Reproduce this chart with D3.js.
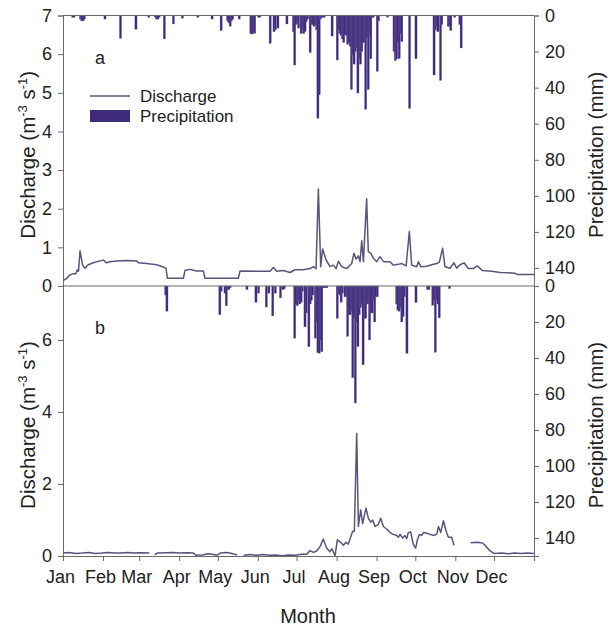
<!DOCTYPE html>
<html><head><meta charset="utf-8">
<script src="https://cdn.jsdelivr.net/npm/d3@7/dist/d3.min.js"></script>
<style>
body{margin:0;background:#fff}
svg{display:block;font-family:Arial,"Liberation Sans",sans-serif}
</style>
</head><body>
<svg id="chart" width="608" height="627"></svg>
<script>
// ---------- DATA ----------
const monthLabels = ["Jan","Feb","Mar","Apr","May","Jun","Jul","Aug","Sep","Oct","Nov","Dec"];
const monthStartDays = [0,31,59,90,120,151,181,212,243,273,304,334];
const yearEnd = 365;

const dischargeTicksA = [0,1,2,3,4,5,6,7];
const dischargeTicksB = [0,2,4,6];
const precipTicks = [0,20,40,60,80,100,120,140];

// panel a daily precipitation [day of year, mm]
const precipA = [[7,1],[8,1],[13,2],[14,3],[15,3],[16,2],[32,2],[44,12.7],[56,7.7],[66,1],[71,1],[72,2],[73,2],[74,1],
[78,13],[85,4.7],[92,1.5],[104,1],[115,2],[122,8.4],[127,3],[128,4],[129,6],[130,3],[131,2],[136,2],
[145,10],[146,10.3],[147,9],[148,10],[151,1],[152,1],[160,15.5],[163,9],[164,8],[166,7],[173,4.7],
[178,9],[179,27.5],[180,5],[181,4],[182,7],[184,10],[185,8],[186,10],[187,9],[188,3.4],[189,2],
[191,20.6],[192,5],[193,5],[194,6],[195,5],[196,8],[197,57],[198,44],[199,2],[200,1],[201,1],[202,1],
[208,11.4],[212,24.7],[213,8],[214,10],[215,11],[216,13],[217,15],[218,10.8],[219,11],[220,16],[221,15],[222,17],
[223,41],[224,22],[225,27],[226,20],[227,18],[228,43],[229,24],[230,27],[231,20],[232,15],[233,15],[234,52],
[235,12],[236,41],[237,10],[238,24],[239,1],[240,1],[243,31],[244,3],[251,1],
[256,20],[257,25],[258,24],[259,15],[260,24],[261,10],[262,14.5],[268,51.6],[273,24],
[287,33],[288,8],[289,6],[290,9],[292,36],[293,5],[298,6],[299,6],[300,8.4],[303,1],[307,5],[308,18]];

// panel b daily precipitation [day of year, mm]
const precipB = [[79,5],[80,14],[121,16],[122,3],[125,4],[126,11],[127,2],[128,2],[129,1],[142,2],[149,9],[151,4],
[157,11.7],[159,4],[162,16.6],[164,4],[168,6.6],[170,2],[171,1.5],
[179,29],[180,10],[181,11],[182,8],[183,10],[184,9],[185,3],[187,22.7],[188,15],[190,33.7],[191,10],[192,8],[193,5],
[195,29],[196,20],[197,37],[198,37.4],[199,30],[200,36.5],[201,1],[202,1],[203,1],[204,1],
[212,18],[213,4],[214,5],[215,9],[216,4],[218,6],[219,6],[220,28],[221,16],[222,16],[223,14],[224,51],[225,18],
[226,65],[227,20],[228,33.7],[229,16],[230,12],[231,10],[232,43.8],[233,18],[234,18],[235,10],[236,10],
[237,30],[238,15],[239,15],[240,8],[241,20],[242,6],[243,6],
[258,10],[259,13.4],[260,14],[261,12],[262,20],[263,17],[264,6],[266,37.4],[273,9.2],[282,2],[283,2],
[286,10.7],[287,8],[288,36.8],[289,8],[290,10],[291,17.7],[299,1.5]];

// panel a discharge [day of year, m3/s]
const dischargeA = [[0,0.14],[3,0.2],[5,0.28],[8,0.32],[10,0.32],[11,0.42],[12,0.38],[13.2,0.91],[15.2,0.54],[17,0.46],
[19.6,0.55],[23.5,0.6],[28.7,0.65],[31.3,0.67],[33.8,0.6],[36.4,0.63],[41.6,0.65],[49.3,0.66],[57,0.65],[58.4,0.6],
[64.8,0.58],[72.6,0.55],[77.8,0.49],[79.8,0.46],[80.9,0.2],[93.3,0.2],[94.6,0.41],[98.4,0.43],[103.6,0.39],
[108.8,0.39],[110,0.2],[135.9,0.2],[137.2,0.39],[150,0.38],[160.4,0.38],[163,0.48],[165.6,0.38],[170.8,0.4],
[175.9,0.35],[179.8,0.42],[186.3,0.42],[191.4,0.45],[194,0.5],[196.1,0.45],[197.9,2.51],[199.7,0.5],[201.2,0.96],
[203.8,0.68],[206.9,0.5],[209.5,0.54],[211.6,0.45],[213.4,0.64],[216,0.5],[219.8,0.45],[223.7,0.58],[225.5,0.85],
[227.1,0.7],[228.9,0.78],[230.2,0.63],[231.5,1.17],[232.8,0.63],[235.3,2.26],[236.6,0.89],[238.4,0.85],
[240.5,0.72],[243.1,0.63],[245.7,0.76],[248.3,0.63],[253.4,0.63],[256,0.54],[259.9,0.56],[262.5,0.58],
[265.9,0.52],[268.4,1.41],[270.2,0.54],[274.1,0.5],[275.4,0.63],[277.2,0.5],[281.8,0.51],[285.7,0.55],
[289.6,0.58],[291.7,0.62],[294.2,0.98],[296,0.5],[299.9,0.46],[303,0.6],[305,0.46],[307.7,0.55],[310.8,0.6],
[314.1,0.45],[318,0.45],[321,0.52],[325,0.4],[332,0.38],[339,0.35],[345,0.34],[350,0.33],[352,0.3],[365,0.3]];

// panel b discharge [day of year, m3/s] (null = missing record)
const dischargeB = [[0,0.08],[5,0.1],[10,0.07],[15,0.08],[20,0.1],[25,0.07],[30,0.08],[35,0.1],[40,0.08],[45,0.08],
[50,0.1],[55,0.08],[60,0.09],[67,0.08],[68,null],[71,0.03],[73,0.08],[80,0.09],[85,0.1],[90,0.08],[96,0.09],
[101,0.08],[103,0.02],[108,0.03],[112,0.06],[116,0.05],[119,0.02],[122,0.08],[127,0.1],[131,0.07],[135,0.03],
[136,null],[140,0.02],[145,0.04],[150,0.02],[155,0.04],[160,0.02],[165,0.03],[170,0.01],[175,0.03],[180,0.02],
[185,0.05],[189,0.05],[191.4,0.15],[194,0.1],[196.5,0.14],[199.2,0.26],[201.7,0.47],[204.3,0.22],[206.9,0.12],
[208.5,0.2],[210.8,0.0],[212.6,0.45],[215.2,0.38],[217.3,0.3],[219.3,0.38],[221.1,0.33],[222.9,0.52],
[224.5,0.69],[225.8,0.69],[227.6,3.4],[228.9,0.82],[230.7,1.28],[232.2,0.9],[234.8,1.33],[236.6,1.05],
[238.4,0.94],[240,1.0],[241.8,0.82],[244.4,0.88],[246.2,1.05],[248.3,0.82],[250.8,0.75],[253.4,0.65],
[256,0.6],[258.6,0.57],[259.9,0.52],[261.2,0.6],[263.2,0.5],[265,0.57],[266.3,0.48],[267.6,0.65],
[269.4,0.67],[271.5,0.32],[273.3,0.22],[274.6,0.45],[276.2,0.6],[278,0.57],[279.3,0.65],[281.9,0.63],
[284.5,0.6],[287.1,0.57],[289.6,0.6],[291,0.82],[292.7,0.65],[294.8,0.98],[296.8,0.7],[298.6,0.52],
[301.2,0.52],[303,0.3],[304,null],[316,0.37],[321,0.38],[325,0.36],[327,0.3],[331,0.14],[334,0.07],
[340,0.08],[345,0.06],[350,0.08],[355,0.07],[360,0.08],[365,0.07]];

// ---------- LAYOUT ----------
const svg = d3.select("#chart");
const L = 63, R = 534, topA = 15.5, mid = 286, botB = 556;
const barColor = "#3d2a7a", lineColor = "#56557c", axisColor = "#6b6b6b", textColor = "#222";

const x = d3.scaleLinear().domain([0, yearEnd]).range([L, R]);
const yA = d3.scaleLinear().domain([0, 7]).range([mid, topA]);
const pA = d3.scaleLinear().domain([0, 150]).range([topA, mid]);
const yB = d3.scaleLinear().domain([0, 7.5]).range([botB, mid]);
const pB = d3.scaleLinear().domain([0, 150]).range([mid, botB]);

function drawPanel(precip, discharge, yQ, yP, qTicks, label, top, bottom) {
  const g = svg.append("g");
  g.selectAll("rect.bar").data(precip).join("rect")
    .attr("x", d => x(d[0]) - 0.4)
    .attr("y", yP(0))
    .attr("width", 2.2)
    .attr("height", d => yP(d[1]) - yP(0))
    .attr("fill", barColor)
    .attr("stroke", "#7a6aa8").attr("stroke-width", 0.3);
  const line = d3.line().defined(d => d[1] !== null).x(d => x(d[0])).y(d => yQ(d[1]));
  g.append("path").datum(discharge).attr("d", line)
    .attr("fill", "none").attr("stroke", lineColor).attr("stroke-width", 1.5)
    .attr("stroke-linejoin", "round");
  g.append("line").attr("x1", L).attr("x2", R).attr("y1", top).attr("y2", top)
    .attr("stroke", axisColor).attr("stroke-width", 1);
  const la = g.append("g").attr("transform", `translate(${L},0)`)
    .call(d3.axisLeft(yQ).tickValues(qTicks).tickSize(5).tickPadding(6).tickFormat(d3.format("d")));
  const ra = g.append("g").attr("transform", `translate(${R},0)`)
    .call(d3.axisRight(yP).tickValues(precipTicks).tickSize(5).tickPadding(6));
  [la, ra].forEach(a => {
    a.select(".domain").attr("stroke", axisColor);
    a.selectAll(".tick line").attr("stroke", axisColor);
    a.selectAll("text").attr("font-size", 18).attr("fill", textColor).attr("font-family", "Arial, 'Liberation Sans', sans-serif");
  });
  g.append("text").attr("x", 95).attr("y", top + 48).attr("font-size", 18).attr("fill", textColor).text(label);
  const cy = (top + bottom) / 2 + 4;
  const t = g.append("text").attr("transform", `translate(35,${cy}) rotate(-90)`)
    .attr("text-anchor", "middle").attr("font-size", 20.5).attr("fill", textColor);
  t.append("tspan").text("Discharge (m");
  t.append("tspan").attr("dy", -8).attr("font-size", 13).text("-3");
  t.append("tspan").attr("dy", 8).text(" s");
  t.append("tspan").attr("dy", -8).attr("font-size", 13).text("-1");
  t.append("tspan").attr("dy", 8).text(")");
  g.append("text").attr("transform", `translate(603,${cy}) rotate(-90)`)
    .attr("text-anchor", "middle").attr("font-size", 20.5).attr("fill", textColor)
    .text("Precipitation (mm)");
}

drawPanel(precipA, dischargeA, yA, pA, dischargeTicksA, "a", topA, mid);
drawPanel(precipB, dischargeB, yB, pB, dischargeTicksB, "b", mid, botB);

const xa = svg.append("g").attr("transform", `translate(0,${botB})`)
  .call(d3.axisBottom(x).tickValues(monthStartDays.concat([yearEnd])).tickSize(5).tickPadding(9)
    .tickFormat(d => { const i = monthStartDays.indexOf(d); return i >= 0 ? monthLabels[i] : ""; }));
xa.select(".domain").attr("stroke", axisColor);
xa.selectAll(".tick line").attr("stroke", axisColor);
xa.selectAll("text").attr("font-size", 18).attr("fill", textColor).attr("dx", -3)
  .attr("font-family", "Arial, 'Liberation Sans', sans-serif");

svg.append("text").attr("x", 308).attr("y", 623).attr("text-anchor", "middle")
  .attr("font-size", 20).attr("fill", textColor).text("Month");

const lg = svg.append("g").attr("font-size", 17).attr("fill", textColor);
lg.append("line").attr("x1", 90).attr("x2", 130).attr("y1", 96).attr("y2", 96)
  .attr("stroke", lineColor).attr("stroke-width", 1.5);
lg.append("text").attr("x", 140).attr("y", 96).attr("dy", "0.35em").text("Discharge");
lg.append("rect").attr("x", 90).attr("y", 110).attr("width", 40).attr("height", 12).attr("fill", barColor);
lg.append("text").attr("x", 140).attr("y", 116).attr("dy", "0.35em").text("Precipitation");
</script>
</body></html>
